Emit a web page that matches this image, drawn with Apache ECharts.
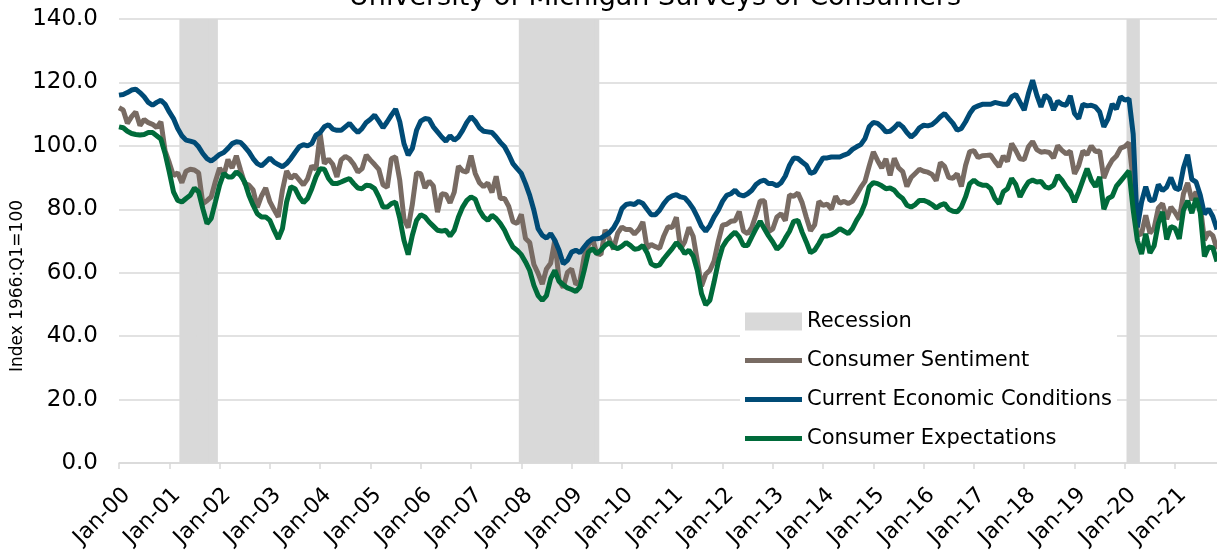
<!DOCTYPE html>
<html>
<head>
<meta charset="utf-8">
<title>University of Michigan Surveys of Consumers</title>
<script src="https://cdn.jsdelivr.net/npm/echarts@6/dist/echarts.min.js"></script>
<style>
  html, body { margin: 0; padding: 0; background: #fff; }
  #chart { width: 1217px; height: 558px; }
</style>
</head>
<body>
<div id="chart"></div>
<script>
// monthly categories Jan-00 .. Nov-21
const monthNames = ['Jan', 'Feb', 'Mar', 'Apr', 'May', 'Jun', 'Jul', 'Aug', 'Sep', 'Oct', 'Nov', 'Dec']
const firstYear = 2000
const lastYear = 2021
const lastMonthIndex = 10
const months = []
for (let y = firstYear; y <= lastYear; y++) {
  for (let m = 0; m < 12; m++) {
    if (y === lastYear && m > lastMonthIndex) break
    months.push(monthNames[m] + '-' + String(y % 100).padStart(2, '0'))
  }
}

// one row per year
const sentiment = [
  112.0, 111.3, 107.1, 109.2, 110.7, 106.4, 108.3, 107.3, 106.8, 105.8, 107.6, 98.4,
  94.7, 90.6, 91.5, 88.4, 92.0, 92.6, 92.4, 91.5, 81.8, 82.7, 83.9, 88.8,
  93.0, 90.7, 95.7, 93.0, 96.9, 92.4, 88.1, 87.6, 86.1, 80.6, 84.2, 86.7,
  82.4, 79.9, 77.6, 86.0, 92.1, 89.7, 90.9, 89.3, 87.7, 89.6, 93.7, 92.6,
  103.8, 94.4, 95.8, 94.2, 90.2, 95.6, 96.7, 95.9, 94.2, 91.7, 92.8, 97.1,
  95.5, 94.1, 92.6, 87.7, 86.9, 96.0, 96.5, 89.1, 76.9, 74.2, 81.6, 91.5,
  91.2, 86.7, 88.9, 87.4, 79.1, 84.9, 84.7, 82.0, 85.4, 93.6, 92.1, 91.7,
  96.9, 91.3, 88.4, 87.1, 88.3, 85.3, 90.4, 83.4, 83.4, 80.9, 76.1, 75.5,
  78.4, 70.8, 69.5, 62.6, 59.8, 56.4, 61.2, 63.0, 70.3, 57.6, 55.3, 60.1,
  61.2, 56.3, 57.3, 65.1, 68.7, 70.8, 66.0, 65.7, 73.5, 70.6, 67.4, 72.5,
  74.4, 73.6, 73.6, 72.2, 73.6, 76.0, 67.8, 68.9, 68.2, 67.7, 71.6, 74.5,
  74.2, 77.5, 67.5, 69.8, 74.3, 71.5, 63.7, 55.8, 59.5, 60.8, 63.7, 69.9,
  75.0, 75.3, 76.2, 76.4, 79.3, 73.2, 72.3, 74.3, 78.3, 82.6, 82.7, 72.9,
  73.8, 77.6, 78.6, 76.4, 84.5, 84.1, 85.1, 82.1, 77.5, 73.2, 75.1, 82.5,
  81.2, 81.6, 80.0, 84.1, 81.9, 82.5, 81.8, 82.5, 84.6, 86.9, 88.8, 93.6,
  98.1, 95.4, 93.0, 95.9, 90.7, 96.1, 93.1, 91.9, 87.2, 90.0, 91.3, 92.6,
  92.0, 91.7, 91.0, 89.0, 94.7, 93.5, 90.0, 89.8, 91.2, 87.2, 93.8, 98.2,
  98.5, 96.3, 96.9, 97.0, 97.1, 95.1, 93.4, 96.8, 95.1, 100.7, 98.5, 95.9,
  95.7, 99.7, 101.4, 98.8, 98.0, 98.2, 97.9, 96.2, 100.1, 98.6, 97.5, 98.3,
  91.2, 93.8, 98.4, 97.2, 100.0, 98.2, 98.4, 89.8, 93.2, 95.5, 96.8, 99.3,
  99.8, 101.0, 89.1, 71.8, 72.3, 78.1, 72.5, 74.1, 80.4, 81.8, 76.9, 80.7,
  79.0, 76.8, 84.9, 88.3, 82.9, 85.5, 81.2, 70.3, 72.8, 71.7, 67.4
]

const currentConditions = [
  116.0, 116.2, 116.8, 117.6, 117.9, 116.8, 115.5, 113.7, 112.8, 113.7, 114.4, 113.1,
  110.7, 108.6, 105.5, 103.2, 101.8, 101.5, 101.1, 99.7, 97.6, 96.0, 95.2, 96.2,
  97.3, 97.9, 99.2, 100.7, 101.3, 101.1, 99.7, 98.1, 96.0, 94.4, 93.7, 94.9,
  96.2, 94.9, 94.1, 93.4, 94.4, 96.0, 97.9, 99.7, 100.4, 100.0, 100.7, 103.4,
  104.2, 106.0, 106.7, 105.3, 104.9, 104.9, 106.0, 107.1, 105.5, 104.2, 105.5, 107.4,
  108.4, 109.7, 107.8, 105.7, 107.6, 109.7, 111.6, 107.6, 100.7, 97.1, 99.2, 104.9,
  107.8, 108.6, 108.4, 106.0, 104.4, 102.8, 101.5, 103.2, 101.8, 102.8, 104.9, 107.4,
  109.2, 107.8, 105.7, 104.6, 104.4, 104.2, 102.8, 101.1, 99.7, 97.3, 94.4, 92.8,
  91.3, 88.1, 84.4, 79.7, 73.9, 71.8, 70.9, 72.3, 70.2, 67.1, 62.8, 63.9,
  66.5, 67.1, 66.3, 68.1, 69.7, 70.7, 70.7, 70.9, 71.8, 72.6, 74.1, 76.5,
  80.2, 81.5, 81.8, 81.5, 82.5, 81.8, 80.0, 78.3, 78.3, 79.7, 81.8, 83.4,
  84.2, 84.6, 83.9, 83.6, 82.1, 80.2, 77.6, 74.7, 73.1, 74.9, 77.6, 79.7,
  82.5, 84.4, 84.9, 86.0, 84.6, 84.2, 84.9, 86.0, 87.8, 88.8, 89.2, 88.1,
  88.1, 87.4, 88.4, 90.5, 93.9, 96.2, 96.0, 94.9, 93.9, 91.3, 91.8, 94.1,
  96.2, 96.2, 96.5, 96.5, 96.5, 97.1, 97.6, 98.9, 99.7, 100.4, 102.3, 106.0,
  107.4, 107.1, 106.0, 104.4, 104.6, 105.7, 107.1, 106.0, 104.2, 102.8, 103.9, 105.7,
  106.5, 106.3, 106.7, 107.8, 109.2, 110.2, 108.6, 107.1, 104.9, 105.5, 107.6, 110.2,
  112.0, 112.6, 113.1, 113.1, 113.1, 113.7, 113.4, 113.1, 113.1, 115.5, 116.2, 113.7,
  111.3, 116.5, 120.7, 116.0, 112.3, 116.0, 114.9, 111.3, 114.1, 113.1, 112.8, 115.8,
  110.2, 108.6, 113.1, 112.6, 112.8, 112.3, 110.7, 106.0, 108.5, 113.2, 111.6, 115.5,
  114.4, 114.8, 103.7, 74.3, 82.3, 87.1, 82.8, 82.9, 87.8, 85.9, 87.0, 90.0,
  86.7, 86.2, 93.0, 97.2, 89.4, 88.6, 84.5, 78.5, 80.1, 77.7, 73.6
]

const expectations = [
  106.0, 105.7, 104.6, 103.9, 103.6, 103.4, 103.6, 104.2, 104.2, 103.2, 102.1, 97.6,
  91.8, 85.5, 82.8, 82.3, 83.4, 84.4, 86.7, 85.5, 80.2, 75.5, 77.1, 82.3,
  87.6, 91.3, 90.2, 90.2, 91.8, 90.7, 88.6, 84.4, 81.3, 78.6, 77.6, 77.6,
  76.5, 73.4, 70.7, 73.9, 82.3, 87.1, 86.5, 83.9, 82.1, 83.4, 86.5, 90.2,
  92.8, 92.6, 89.7, 88.1, 88.1, 88.6, 89.2, 89.7, 88.1, 86.7, 86.5, 87.6,
  87.4, 86.5, 83.9, 80.7, 80.7, 81.8, 82.3, 77.1, 70.2, 65.7, 71.8, 76.5,
  78.3, 77.6, 76.0, 74.7, 73.4, 73.1, 73.4, 71.6, 73.4, 77.6, 80.7, 82.8,
  83.9, 83.2, 79.7, 77.6, 76.5, 78.1, 77.1, 75.5, 73.4, 70.5, 68.1, 67.1,
  65.7, 63.4, 60.7, 56.0, 52.8, 51.3, 52.8, 58.1, 60.7, 57.3, 56.2, 55.2,
  54.7, 54.1, 55.5, 60.7, 66.5, 67.6, 66.0, 67.1, 68.6, 69.5, 68.1, 67.6,
  68.4, 69.5, 68.6, 67.4, 67.6, 68.6, 66.3, 62.8, 62.1, 62.5, 64.4, 66.0,
  67.6, 69.5, 68.1, 66.0, 67.1, 65.3, 60.7, 53.4, 49.9, 51.3, 57.1, 63.4,
  68.1, 70.2, 71.6, 72.8, 71.3, 68.6, 68.6, 71.3, 73.9, 76.2, 73.9, 71.6,
  69.7, 67.4, 68.6, 70.9, 73.1, 76.2, 76.5, 72.8, 69.7, 66.3, 67.1, 69.2,
  71.6, 71.6, 72.0, 72.8, 73.9, 73.1, 72.3, 73.9, 76.5, 78.6, 81.8, 87.1,
  88.4, 88.1, 87.4, 86.5, 86.7, 86.0, 84.4, 83.4, 81.3, 80.7, 81.5, 82.8,
  82.8, 82.3, 81.5, 80.4, 81.3, 81.8, 80.0, 79.4, 79.2, 80.7, 83.9, 88.1,
  89.2, 88.1, 87.6, 87.6, 86.5, 83.4, 81.8, 85.5, 86.5, 89.7, 87.8, 83.9,
  86.5, 88.6, 89.2, 88.6, 88.8, 87.1, 86.7, 87.6, 90.7, 89.2, 87.1, 85.5,
  82.3, 85.5, 89.2, 92.8, 89.2, 87.1, 90.2, 80.0, 83.4, 84.1, 87.3, 88.9,
  90.5, 92.1, 79.8, 70.2, 65.9, 72.3, 66.2, 68.5, 75.6, 79.2, 70.5, 74.6,
  74.0, 70.7, 79.7, 82.7, 78.8, 83.5, 79.0, 65.1, 68.1, 67.9, 63.5
]

// shaded months, first and last of each recession band
const recessions = [['Apr-01', 'Dec-01'], ['Jan-08', 'Jul-09'], ['Feb-20', 'Apr-20']]

const yMin = 0
const yMax = 140
const yStep = 20

const recessionBars = months.map((m, i) =>
  recessions.some(([a, b]) => i >= months.indexOf(a) && i <= months.indexOf(b)) ? yMax : '-'
)

// thick flat bar used as legend icon for the line series
const lineIcon = 'path://M0,0 L57,0 L57,5 L0,5 Z'

const chart = echarts.init(document.getElementById('chart'))

const option = {
  animation: false,
  backgroundColor: '#fff',
  textStyle: { fontFamily: 'DejaVu Sans' },
  title: {
    text: 'University of Michigan Surveys of Consumers',
    left: 650,
    top: -21,
    textAlign: 'center',
    textStyle: { fontSize: 27, fontWeight: 'normal', color: '#000', fontFamily: 'DejaVu Sans' }
  },
  graphic: [
    {
      type: 'text',
      x: 18,
      y: 286,
      rotation: Math.PI / 2,
      style: {
        text: 'Index 1966:Q1=100',
        font: '17px "DejaVu Sans"',
        fill: '#000',
        textAlign: 'center',
        textVerticalAlign: 'middle'
      }
    }
  ],
  legend: {
    orient: 'vertical',
    left: 740,
    top: 306,
    padding: 5,
    backgroundColor: '#fff',
    itemWidth: 57,
    itemHeight: 18,
    itemGap: 18,
    symbolKeepAspect: true,
    textStyle: { fontSize: 21, color: '#000', fontFamily: 'DejaVu Sans' },
    data: [
      { name: 'Recession', icon: 'rect' },
      { name: 'Consumer Sentiment', icon: lineIcon },
      { name: 'Current Economic Conditions', icon: lineIcon },
      { name: 'Consumer Expectations', icon: lineIcon }
    ]
  },
  grid: {
    left: 119,
    right: -2,
    top: 19,
    bottom: 95
  },
  xAxis: {
    type: 'category',
    data: months,
    boundaryGap: false,
    axisLine: { lineStyle: { color: '#D9D9D9', width: 1.5 } },
    axisTick: {
      show: true,
      interval: (i) => i % 12 === 0,
      length: 6,
      lineStyle: { color: '#D9D9D9', width: 1.5 }
    },
    axisLabel: {
      interval: (i) => i % 12 === 0,
      rotate: 45,
      margin: 21,
      verticalAlign: 'top',
      fontSize: 22,
      color: '#000',
      fontFamily: 'DejaVu Sans'
    },
    splitLine: { show: false }
  },
  yAxis: {
    type: 'value',
    min: yMin,
    max: yMax,
    interval: yStep,
    axisLine: { show: false },
    axisTick: { show: false },
    axisLabel: {
      formatter: (v) => v.toFixed(1),
      margin: 21,
      fontSize: 23,
      color: '#000',
      fontFamily: 'DejaVu Sans'
    },
    splitLine: { lineStyle: { color: '#D9D9D9', width: 1.5 } }
  },
  series: [
    {
      name: 'Recession',
      type: 'bar',
      data: recessionBars,
      barWidth: 5,
      itemStyle: { color: '#D9D9D9' },
      z: 1
    },
    {
      name: 'Consumer Sentiment',
      type: 'line',
      data: sentiment,
      symbol: 'none',
      lineStyle: { color: '#786B63', width: 5 },
      itemStyle: { color: '#786B63' },
      z: 2
    },
    {
      name: 'Current Economic Conditions',
      type: 'line',
      data: currentConditions,
      symbol: 'none',
      lineStyle: { color: '#004B76', width: 5 },
      itemStyle: { color: '#004B76' },
      z: 3
    },
    {
      name: 'Consumer Expectations',
      type: 'line',
      data: expectations,
      symbol: 'none',
      lineStyle: { color: '#006B3A', width: 5 },
      itemStyle: { color: '#006B3A' },
      z: 4
    }
  ]
}

chart.setOption(option)

window.addEventListener('resize', () => chart.resize())
</script>
</body>
</html>
